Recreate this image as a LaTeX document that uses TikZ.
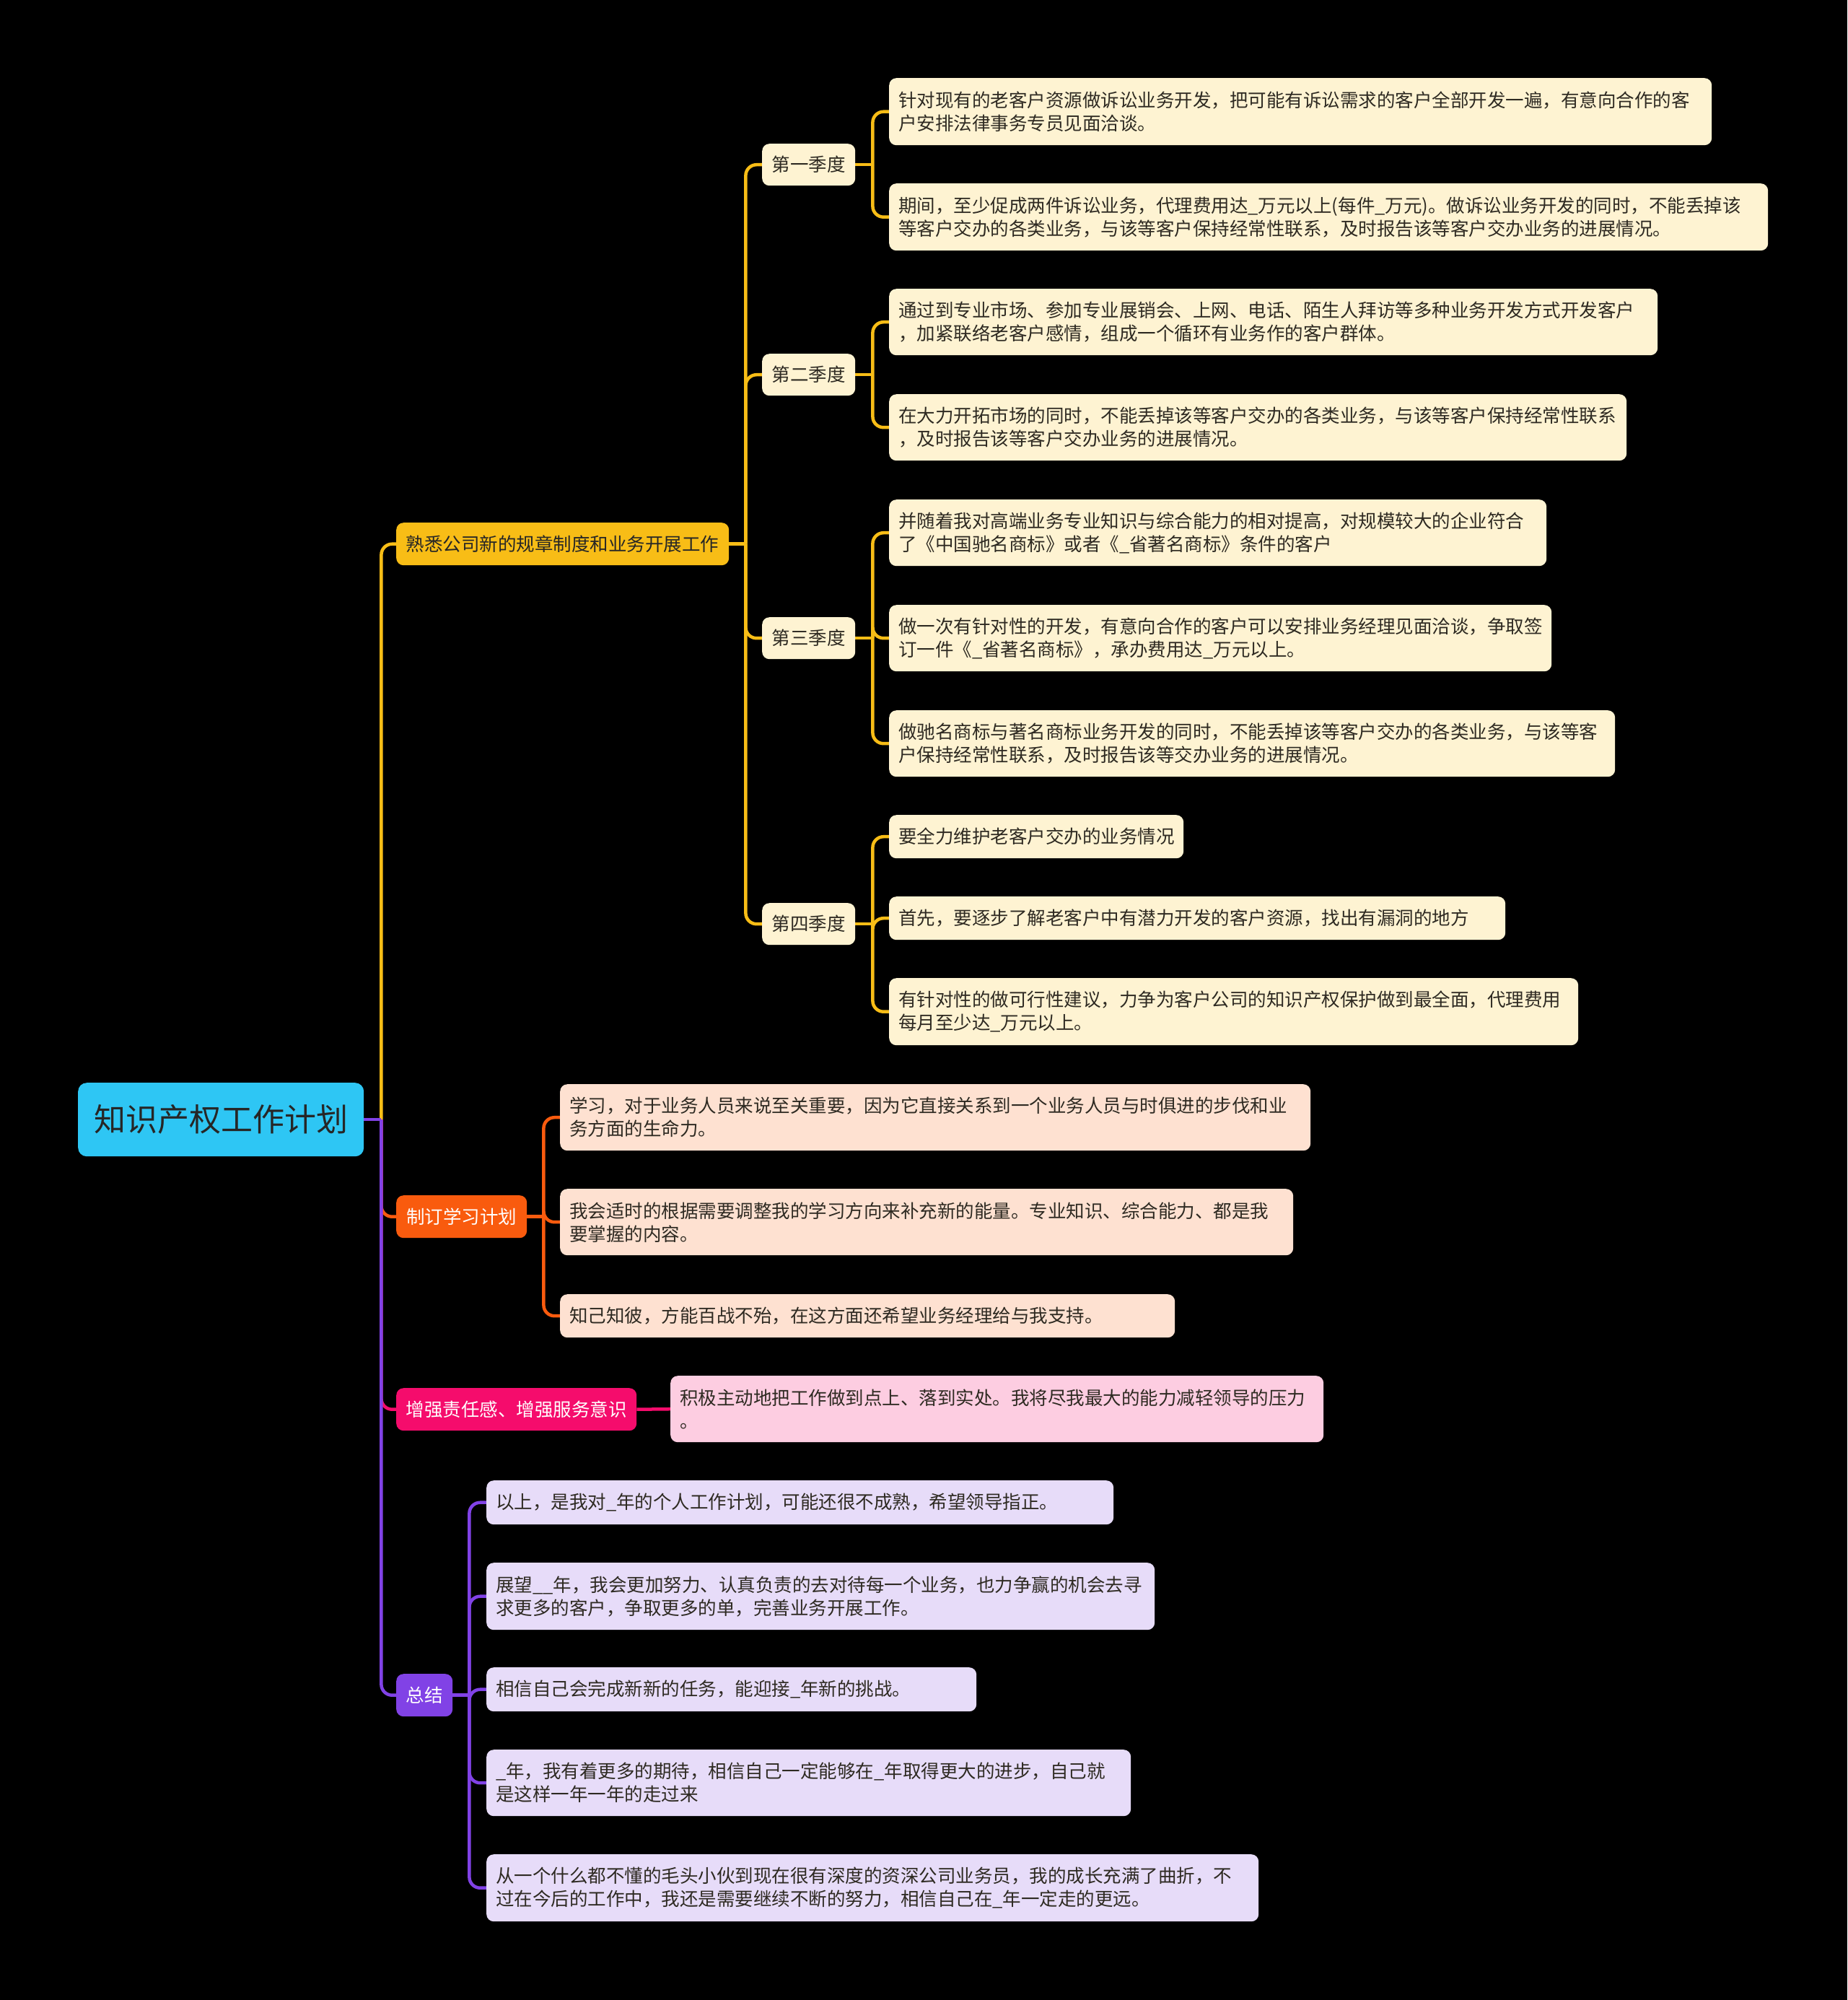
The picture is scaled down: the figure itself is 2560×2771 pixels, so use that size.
\documentclass[tikz,border=0pt]{standalone}
\usepackage{fontspec}
\setmainfont{Noto Sans CJK SC}
\usetikzlibrary{calc}
\pgfdeclarelayer{bg}
\pgfsetlayers{bg,main}
\definecolor{rootc}{HTML}{2EC6F4}
\definecolor{yel}{HTML}{F8BD16}
\definecolor{yelL}{HTML}{FEF3D2}
\definecolor{ora}{HTML}{F95B0E}
\definecolor{oraL}{HTML}{FEE1D1}
\definecolor{pnk}{HTML}{F50C6C}
\definecolor{pnkL}{HTML}{FDCDE1}
\definecolor{pur}{HTML}{8142E6}
\definecolor{purL}{HTML}{E7DCF9}
\definecolor{txt}{HTML}{2E2A22}
\tikzset{
  box/.style={rounded corners=10, inner xsep=13, inner ysep=0, anchor=north west,
    font=\fontsize{25.5}{32}\selectfont, text=txt, align=left},
  leafY/.style={box, fill=yelL},
  leafO/.style={box, fill=oraL},
  leafP/.style={box, fill=pnkL},
  leafU/.style={box, fill=purL},
  lnk/.style={line width=4.5, rounded corners=15},
}
\newcommand\conn[3]{\draw[lnk,#1] (#2) |- (#3.west);}
\begin{document}
\begin{tikzpicture}[x=1pt,y=-1pt]
\begin{pgfonlayer}{bg}
\fill[black] (0,0) rectangle (2560,2771);
\end{pgfonlayer}
\useasboundingbox (0,0) rectangle (2560,2771);

% root
\node[box, fill=rootc, rounded corners=12, minimum width=396, minimum height=102, align=center,
  font=\fontsize{44}{50}\selectfont, text=black!85] (root) at (108,1500) {知识产权工作计划};

% branches
\node[box, fill=yel, minimum width=461, minimum height=59, align=center, text=black!85] (b1) at (549,724) {熟悉公司新的规章制度和业务开展工作};
\node[box, fill=ora, minimum width=181, minimum height=59, align=center, text=white] (b2) at (549,1656) {制订学习计划};
\node[box, fill=pnk, minimum width=333, minimum height=59, align=center, text=white] (b3) at (549,1923) {增强责任感、增强服务意识};
\node[box, fill=pur, minimum width=78, minimum height=59, align=center, text=white] (b4) at (549,2319) {总结};

% quarters
\node[leafY, minimum width=129, minimum height=58, align=center] (q1) at (1056,199) {第一季度};
\node[leafY, minimum width=129, minimum height=58, align=center] (q2) at (1056,490) {第二季度};
\node[leafY, minimum width=129, minimum height=58, align=center] (q3) at (1056,855) {第三季度};
\node[leafY, minimum width=129, minimum height=58, align=center] (q4) at (1056,1251) {第四季度};

% Q1 leaves
\node[leafY, text width=1114, minimum height=93] (l1a) at (1232,108) {针对现有的老客户资源做诉讼业务开发，把可能有诉讼需求的客户全部开发一遍，有意向合作的客\\户安排法律事务专员见面洽谈。};
\node[leafY, text width=1192, minimum height=93] (l1b) at (1232,254) {期间，至少促成两件诉讼业务，代理费用达\_万元以上(每件\_万元)。做诉讼业务开发的同时，不能丢掉该\\等客户交办的各类业务，与该等客户保持经常性联系，及时报告该等客户交办业务的进展情况。};
% Q2 leaves
\node[leafY, text width=1039, minimum height=92] (l2a) at (1232,400) {通过到专业市场、参加专业展销会、上网、电话、陌生人拜访等多种业务开发方式开发客户\\，加紧联络老客户感情，组成一个循环有业务作的客户群体。};
\node[leafY, text width=996, minimum height=92] (l2b) at (1232,546) {在大力开拓市场的同时，不能丢掉该等客户交办的各类业务，与该等客户保持经常性联系\\，及时报告该等客户交办业务的进展情况。};
% Q3 leaves
\node[leafY, text width=885, minimum height=92] (l3a) at (1232,692) {并随着我对高端业务专业知识与综合能力的相对提高，对规模较大的企业符合\\了《中国驰名商标》或者《\_省著名商标》条件的客户};
\node[leafY, text width=892, minimum height=92] (l3b) at (1232,838) {做一次有针对性的开发，有意向合作的客户可以安排业务经理见面洽谈，争取签\\订一件《\_省著名商标》，承办费用达\_万元以上。};
\node[leafY, text width=980, minimum height=92] (l3c) at (1232,984) {做驰名商标与著名商标业务开发的同时，不能丢掉该等客户交办的各类业务，与该等客\\户保持经常性联系，及时报告该等交办业务的进展情况。};
% Q4 leaves
\node[leafY, text width=382, minimum height=60] (l4a) at (1232,1129) {要全力维护老客户交办的业务情况};
\node[leafY, text width=828, minimum height=60] (l4b) at (1232,1242) {首先，要逐步了解老客户中有潜力开发的客户资源，找出有漏洞的地方};
\node[leafY, text width=929, minimum height=93] (l4c) at (1232,1355) {有针对性的做可行性建议，力争为客户公司的知识产权保护做到最全面，代理费用\\每月至少达\_万元以上。};

% branch 2 leaves
\node[leafO, text width=1014, minimum height=92] (l5a) at (776,1502) {学习，对于业务人员来说至关重要，因为它直接关系到一个业务人员与时俱进的步伐和业\\务方面的生命力。};
\node[leafO, text width=990, minimum height=92] (l5b) at (776,1647) {我会适时的根据需要调整我的学习方向来补充新的能量。专业知识、综合能力、都是我\\要掌握的内容。};
\node[leafO, text width=826, minimum height=60] (l5c) at (776,1793) {知己知彼，方能百战不殆，在这方面还希望业务经理给与我支持。};

% branch 3 leaf
\node[leafP, text width=879, minimum height=92] (l6) at (929,1906) {积极主动地把工作做到点上、落到实处。我将尽我最大的能力减轻领导的压力\\。};

% branch 4 leaves
\node[leafU, text width=843, minimum height=61] (l7a) at (674,2051) {以上，是我对\_年的个人工作计划，可能还很不成熟，希望领导指正。};
\node[leafU, text width=900, minimum height=93] (l7b) at (674,2165) {展望\_\_年，我会更加努力、认真负责的去对待每一个业务，也力争赢的机会去寻\\求更多的客户，争取更多的单，完善业务开展工作。};
\node[leafU, text width=653, minimum height=61] (l7c) at (674,2310) {相信自己会完成新新的任务，能迎接\_年新的挑战。};
\node[leafU, text width=867, minimum height=92] (l7d) at (674,2424) {\_年，我有着更多的期待，相信自己一定能够在\_年取得更大的进步，自己就\\是这样一年一年的走过来};
\node[leafU, text width=1044, minimum height=93] (l7e) at (674,2569) {从一个什么都不懂的毛头小伙到现在很有深度的资深公司业务员，我的成长充满了曲折，不\\过在今后的工作中，我还是需要继续不断的努力，相信自己在\_年一定走的更远。};

% junctions
\coordinate (jR) at ($(root.east)+(24,0)$);
\coordinate (j1) at ($(b1.east)+(23,0)$);
\coordinate (jq1) at ($(q1.east)+(24,0)$);
\coordinate (jq2) at ($(q2.east)+(24,0)$);
\coordinate (jq3) at ($(q3.east)+(24,0)$);
\coordinate (jq4) at ($(q4.east)+(24,0)$);
\coordinate (j2) at ($(b2.east)+(23,0)$);
\coordinate (j4) at ($(b4.east)+(23,0)$);

\begin{pgfonlayer}{bg}
% yellow branch
\conn{yel}{jR}{b1}
\draw[lnk,yel] (b1.east) -- (j1);
\conn{yel}{j1}{q1} \conn{yel}{j1}{q2} \conn{yel}{j1}{q3} \conn{yel}{j1}{q4}
\draw[lnk,yel] (q1.east) -- (jq1); \conn{yel}{jq1}{l1a} \conn{yel}{jq1}{l1b}
\draw[lnk,yel] (q2.east) -- (jq2); \conn{yel}{jq2}{l2a} \conn{yel}{jq2}{l2b}
\draw[lnk,yel] (q3.east) -- (jq3); \conn{yel}{jq3}{l3a} \conn{yel}{jq3}{l3b} \conn{yel}{jq3}{l3c}
\draw[lnk,yel] (q4.east) -- (jq4); \conn{yel}{jq4}{l4a} \conn{yel}{jq4}{l4b} \conn{yel}{jq4}{l4c}
% orange branch
\conn{ora}{jR}{b2}
\draw[lnk,ora] (b2.east) -- (j2);
\conn{ora}{j2}{l5a} \conn{ora}{j2}{l5b} \conn{ora}{j2}{l5c}
% pink branch
\conn{pnk}{jR}{b3}
\draw[lnk,pnk] (b3.east) -- (l6.west);
% purple branch
\conn{pur}{jR}{b4}
\draw[lnk,pur] (root.east) -- (jR);
\draw[lnk,pur] (b4.east) -- (j4);
\conn{pur}{j4}{l7a} \conn{pur}{j4}{l7b} \conn{pur}{j4}{l7c} \conn{pur}{j4}{l7d} \conn{pur}{j4}{l7e}
\end{pgfonlayer}
\end{tikzpicture}
\end{document}
